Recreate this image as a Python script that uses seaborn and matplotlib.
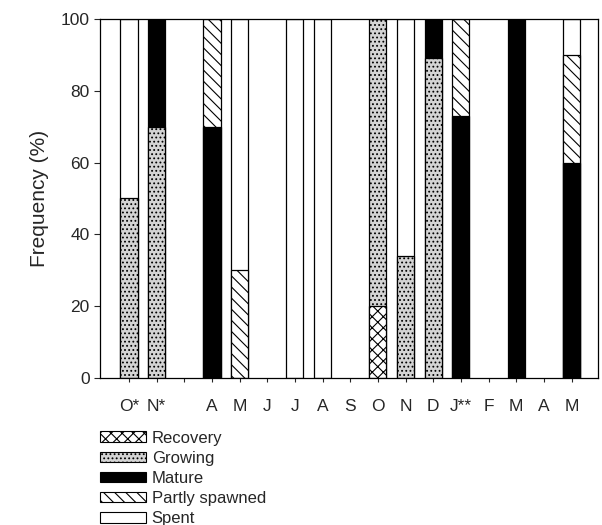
import numpy as np
import pandas as pd
import matplotlib
matplotlib.use("Agg")
import matplotlib.pyplot as plt
from matplotlib.patches import Patch
import seaborn as sns

sns.set_style("ticks")
plt.rcParams["font.family"] = ["Liberation Sans", "DejaVu Sans"]
plt.rcParams["hatch.linewidth"] = 0.8

# slots along the x axis (one blank slot between N* and A)
labels = ["O*", "N*", "", "A", "M", "J", "J", "A", "S", "O", "N", "D", "J**", "F", "M", "A", "M"]
stages = ["Recovery", "Growing", "Mature", "Partly spawned", "Spent"]
recovery = [0, 0, 0, 0, 0, 0, 0, 0, 0, 20, 0, 0, 0, 0, 0, 0, 0]
growing  = [50, 70, 0, 0, 0, 0, 0, 0, 0, 80, 34, 89, 0, 0, 0, 0, 0]
mature   = [0, 30, 0, 70, 0, 0, 0, 0, 0, 0, 0, 11, 73, 0, 100, 0, 60]
partly   = [0, 0, 0, 30, 30, 0, 0, 0, 0, 0, 0, 0, 27, 0, 0, 0, 30]
spent    = [50, 0, 0, 0, 70, 0, 100, 100, 0, 0, 66, 0, 0, 0, 0, 0, 10]

styles = {
    "Recovery": dict(color="white", hatch="xxx"),
    "Growing": dict(color="#d4d4d4", hatch="...."),
    "Mature": dict(color="black", hatch=None),
    "Partly spawned": dict(color="white", hatch="\\\\\\"),
    "Spent": dict(color="white", hatch=None),
}

keys = [f"s{i}" for i in range(len(labels))]
vals = np.array([recovery, growing, mature, partly, spent], dtype=float)
cum = np.cumsum(vals, axis=0)

fig = plt.figure(figsize=(6.02, 5.25), dpi=100)
ax = fig.add_axes([0.166, 0.28, 0.827, 0.684])

# draw from the top stage down so lower stages cover upper ones
for si in range(len(stages) - 1, -1, -1):
    name = stages[si]
    h = np.where(vals[si] > 0, cum[si], np.nan)
    df = pd.DataFrame({"slot": keys, "value": h})
    st = styles[name]
    sns.barplot(data=df, x="slot", y="value", order=keys, ax=ax,
                color=st["color"], saturation=1, width=0.62,
                edgecolor="black", linewidth=0.9, hatch=st["hatch"],
                err_kws={"linewidth": 0})

ax.set_xlim(-1.05, 16.95)
ax.set_ylim(0, 100)
ax.set_yticks([0, 20, 40, 60, 80, 100])
ax.set_xticks(range(len(labels)))
ax.set_xticklabels(labels, fontsize=12.5)
ax.tick_params(axis="y", labelsize=12.5, length=4, direction="out", width=0.8)
ax.tick_params(axis="x", length=3, direction="out", width=0.8, pad=12)
ax.set_xlabel("")
ax.set_ylabel("Frequency (%)", fontsize=15, labelpad=8)
for s in ax.spines.values():
    s.set_linewidth(0.9)
    s.set_color("black")

handles = [Patch(facecolor=styles[n]["color"], edgecolor="black",
                 hatch=styles[n]["hatch"], linewidth=0.8, label=n) for n in stages]
fig.legend(handles=handles, loc="upper left", bbox_to_anchor=(0.166, 0.180),
           frameon=False, fontsize=12, handlelength=2.75, handleheight=0.6,
           handletextpad=0.36, labelspacing=0.31, borderpad=0, borderaxespad=0)

fig.savefig("out.png", dpi=100)
